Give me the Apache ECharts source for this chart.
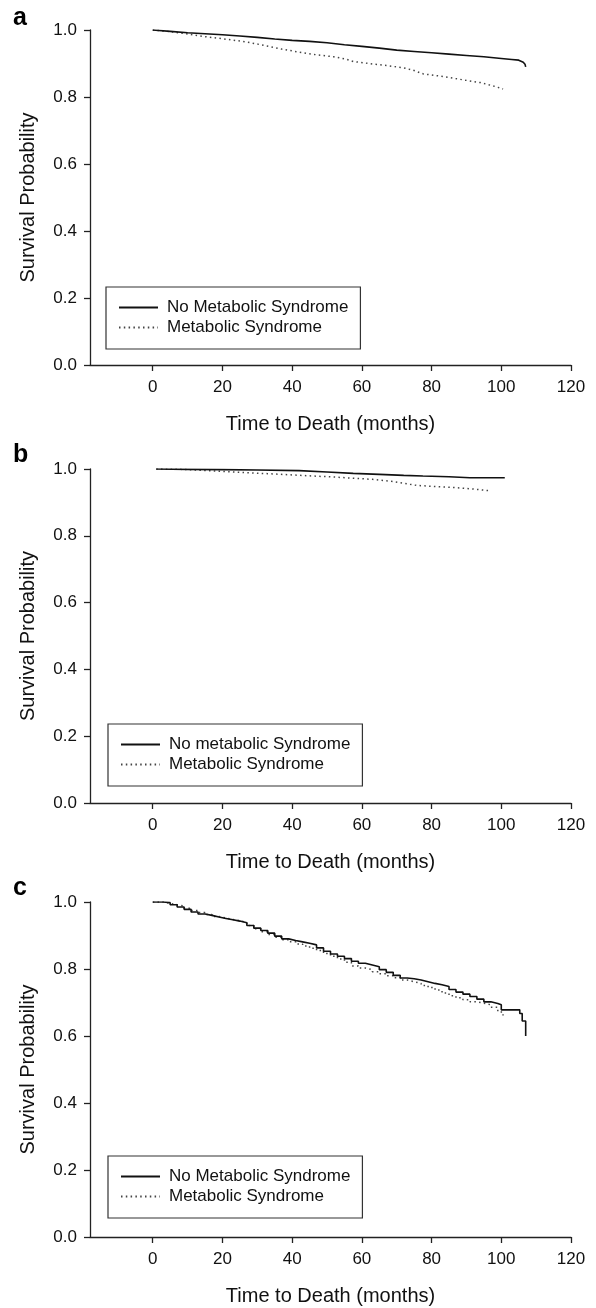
<!DOCTYPE html>
<html>
<head>
<meta charset="utf-8">
<script src="https://cdn.jsdelivr.net/npm/echarts@6/dist/echarts.min.js"></script>
<style>
html,body{margin:0;padding:0;background:#fff;}
#chart{width:596px;height:1308px;}
</style>
</head>
<body>
<div id="chart"></div>
<script>
// ---- Data ----
const xTicks = [0, 20, 40, 60, 80, 100, 120];
const panelLabels = ['a', 'b', 'c'];
const xTitle = 'Time to Death (months)';
const yTitle = 'Survival Probability';

// Panel a
const aNoT = [0, 5, 10, 15, 20, 25, 30, 35, 40, 45, 50, 55, 60, 65, 70, 75, 80, 85, 90, 95, 100, 103, 105, 106.3, 106.8, 107];
const aNoS = [1.0, 0.996, 0.992, 0.989, 0.986, 0.982, 0.978, 0.973, 0.969, 0.966, 0.962, 0.956, 0.951, 0.946, 0.940, 0.936, 0.932, 0.928, 0.924, 0.920, 0.915, 0.912, 0.910, 0.904, 0.898, 0.890];
const aMsT = [0, 5, 10, 13.5, 20, 25, 28, 32, 37, 42, 47, 52, 55.5, 57.5, 62, 67, 72, 74.7, 77.6, 82, 88, 94, 97.7, 100.5];
const aMsS = [1.0, 0.995, 0.988, 0.982, 0.974, 0.967, 0.962, 0.954, 0.943, 0.934, 0.926, 0.920, 0.913, 0.906, 0.900, 0.894, 0.887, 0.880, 0.869, 0.863, 0.853, 0.843, 0.833, 0.824];

// Panel b
const bNoT = [1, 10, 20, 30, 42, 50, 57.5, 65, 72, 77.5, 85, 91, 101];
const bNoS = [1.0, 0.999, 0.998, 0.997, 0.995, 0.991, 0.987, 0.984, 0.981, 0.979, 0.977, 0.974, 0.974];
const bMsT = [1, 8, 12.5, 18, 25, 33, 44, 52, 58, 63, 68.4, 72, 75.6, 82, 87, 92, 96.7];
const bMsS = [1.0, 0.999, 0.997, 0.994, 0.990, 0.986, 0.980, 0.976, 0.972, 0.969, 0.963, 0.957, 0.951, 0.947, 0.944, 0.940, 0.935];

// Panel c
const cNoT = [0, 3, 5, 7, 9, 11, 13, 15, 17, 19, 21, 23, 25, 27, 29, 31, 33, 35, 37, 39, 41, 43, 45, 47, 49, 51, 53, 55, 57, 59, 61, 63, 65, 67, 69, 71, 73, 75, 77, 79, 81, 83, 85, 87, 89, 91, 93, 95, 97, 99, 100, 105.3, 106, 107];
const cNoS = [1.0, 0.998, 0.992, 0.985, 0.978, 0.970, 0.964, 0.960, 0.955, 0.951, 0.947, 0.943, 0.938, 0.930, 0.922, 0.915, 0.907, 0.898, 0.890, 0.885, 0.881, 0.877, 0.872, 0.863, 0.853, 0.845, 0.838, 0.831, 0.823, 0.817, 0.812, 0.807, 0.798, 0.790, 0.781, 0.773, 0.771, 0.767, 0.762, 0.757, 0.753, 0.748, 0.739, 0.731, 0.725, 0.718, 0.710, 0.702, 0.697, 0.693, 0.678, 0.667, 0.645, 0.600];
const cMsT = [0, 3, 5, 7, 9, 11, 13, 15, 17, 19, 21, 23, 25, 27, 29, 31, 33, 35, 37, 39, 41, 43, 45, 47, 49, 51, 53, 55, 57, 59, 61, 63, 65, 67, 69, 71, 73, 75, 77, 79, 81, 83, 85, 87, 89, 91, 93, 95, 97, 99, 100.5];
const cMsS = [1.0, 0.996, 0.992, 0.988, 0.981, 0.975, 0.969, 0.963, 0.957, 0.952, 0.948, 0.944, 0.939, 0.930, 0.920, 0.911, 0.903, 0.895, 0.887, 0.881, 0.875, 0.869, 0.862, 0.855, 0.846, 0.838, 0.830, 0.820, 0.809, 0.803, 0.798, 0.792, 0.786, 0.780, 0.774, 0.767, 0.762, 0.757, 0.751, 0.745, 0.737, 0.728, 0.720, 0.714, 0.708, 0.702, 0.698, 0.693, 0.686, 0.672, 0.661];

const legendA = ['No Metabolic Syndrome', 'Metabolic Syndrome'];
const legendB = ['No metabolic Syndrome', 'Metabolic Syndrome'];
const legendC = ['No Metabolic Syndrome', 'Metabolic Syndrome'];

// ---- Layout / style ----
const FONT = '"Liberation Sans", Arial, Helvetica, sans-serif';
const AXIS_COLOR = '#222';
const grids = [
  {top: 30, height: 335},
  {top: 469, height: 334},
  {top: 902, height: 335}
];
const legendPos = [
  {left: 106, top: 287},
  {left: 108, top: 724},
  {left: 108, top: 1156}
];
const labelPos = [[13, 26], [13, 463], [13, 896]];

const zip = (t, s) => t.map((v, i) => [v, s[i]]);

const chart = echarts.init(document.getElementById('chart'), null, {renderer: 'canvas', width: 596, height: 1308});

const xAxes = grids.map((g, i) => ({
  type: 'value', gridIndex: i, min: -18, max: 120,
  name: xTitle, nameLocation: 'middle', nameGap: 49,
  nameTextStyle: {fontFamily: FONT, fontSize: 20, color: '#111'},
  axisLine: {show: true, onZero: false, lineStyle: {color: AXIS_COLOR, width: 1.3}},
  axisTick: {show: true, length: 6, customValues: xTicks, lineStyle: {color: AXIS_COLOR, width: 1.3}},
  axisLabel: {customValues: xTicks, margin: 14, fontFamily: FONT, fontSize: 17, color: '#111'},
  splitLine: {show: false}
}));
const yAxes = grids.map((g, i) => ({
  type: 'value', gridIndex: i, min: 0, max: 1, interval: 0.2,
  name: yTitle, nameLocation: 'middle', nameGap: 52,
  nameTextStyle: {fontFamily: FONT, fontSize: 20, color: '#111'},
  axisLine: {show: true, onZero: false, lineStyle: {color: AXIS_COLOR, width: 1.3}},
  axisTick: {show: true, length: 6, lineStyle: {color: AXIS_COLOR, width: 1.3}},
  axisLabel: {margin: 13, fontFamily: FONT, fontSize: 17, color: '#111', formatter: v => v.toFixed(1)},
  splitLine: {show: false}
}));

const solidStyle = {color: '#111', width: 1.6, type: 'solid'};
const dotStyle = {color: '#444', width: 1.5, type: [1.5, 3.3]};

function mk(name, t, s, idx, solid, step) {
  return {
    type: 'line', name: name, xAxisIndex: idx, yAxisIndex: idx,
    data: zip(t, s), showSymbol: false, symbol: 'none', step: step,
    lineStyle: solid ? solidStyle : dotStyle,
    itemStyle: {color: solid ? '#111' : '#444'},
    emphasis: {disabled: true}, silent: true, z: solid ? 3 : 2
  };
}

const series = [
  mk(legendA[0], aNoT, aNoS, 0, true, false),
  mk(legendA[1], aMsT, aMsS, 0, false, false),
  mk(legendB[0], bNoT, bNoS, 1, true, false),
  mk(legendB[1], bMsT, bMsS, 1, false, false),
  mk(legendC[0], cNoT, cNoS, 2, true, 'end'),
  mk(legendC[1], cMsT, cMsS, 2, false, 'end')
];

const legendData = [legendA, legendB, legendC];

const legends = legendPos.map((p, i) => ({
  show: true, orient: 'vertical', left: p.left, top: p.top,
  data: legendData[i], selectedMode: false,
  padding: [12, 12, 13, 12], itemGap: 3, itemWidth: 39, itemHeight: 14,
  borderColor: '#333', borderWidth: 1.2, backgroundColor: '#fff',
  itemStyle: {opacity: 0},
  textStyle: {fontFamily: FONT, fontSize: 17, color: '#111', padding: [0, 0, 0, 4]}
}));

const graphics = panelLabels.map((t, i) => ({
  type: 'text', left: labelPos[i][0], top: labelPos[i][1] - 20,
  style: {text: t, fontFamily: FONT, fontWeight: 'bold', fontSize: 25, fill: '#000'}
}));

chart.setOption({
  animation: false,
  backgroundColor: '#fff',
  grid: grids.map(g => ({left: 90, width: 481, top: g.top, height: g.height, containLabel: false})),
  xAxis: xAxes,
  yAxis: yAxes,
  legend: legends,
  graphic: graphics,
  series: series
});
</script>
</body>
</html>
